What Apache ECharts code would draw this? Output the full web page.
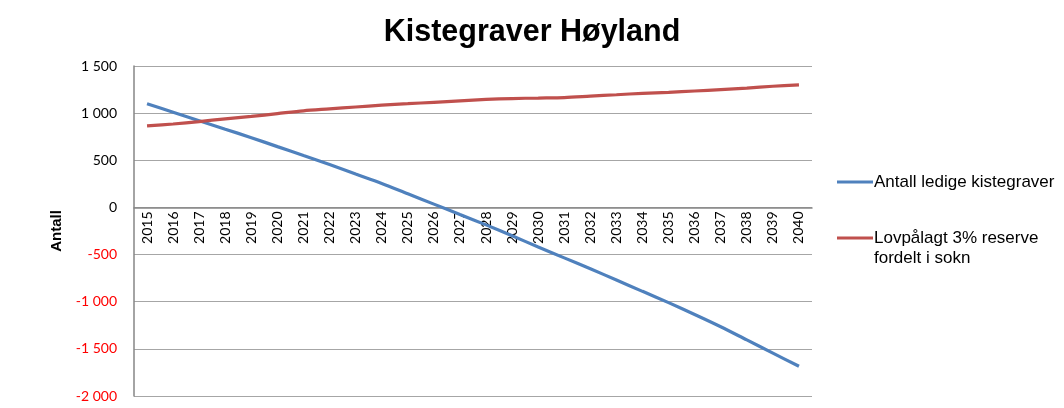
<!DOCTYPE html>
<html>
<head>
<meta charset="utf-8">
<script src="https://cdn.jsdelivr.net/npm/echarts@6/dist/echarts.min.js"></script>
<style>
  html, body { margin: 0; padding: 0; background: #fff; }
  #chart { width: 1064px; height: 408px; }
</style>
</head>
<body>
<div id="chart"></div>
<script>
// Years on the category axis
const years = [
  "2015", "2016", "2017", "2018", "2019", "2020", "2021", "2022", "2023",
  "2024", "2025", "2026", "2027", "2028", "2029", "2030", "2031", "2032",
  "2033", "2034", "2035", "2036", "2037", "2038", "2039", "2040"
];

const ledigeKistegraver = [
  1100, 1010, 920, 830, 740, 645, 550, 455, 355, 255, 145, 35, -75,
  -185, -300, -420, -535, -650, -770, -890, -1010, -1135, -1265, -1405, -1545, -1685
];

const lovpalagtReserve = [
  865, 885, 910, 940, 965, 995, 1025, 1045, 1065, 1085, 1100, 1115, 1130,
  1145, 1155, 1160, 1165, 1180, 1195, 1210, 1220, 1235, 1250, 1265, 1285, 1300
];

const seriesNames = ["Antall ledige kistegraver", "Lovpålagt 3% reserve fordelt i sokn"];

const Y_MIN = -2000, Y_MAX = 1500;
const GRID_TOP = 66, GRID_BOTTOM = 12, CHART_H = 408;

// "1 500" style, with a space as thousands separator
function formatNumber(v) {
  const s = String(Math.abs(v)).replace(/\B(?=(\d{3})+(?!\d))/g, " ");
  return (v < 0 ? "-" : "") + s;
}

// the category axis sits on the zero line, pushed up from the bottom
const plotH = CHART_H - GRID_TOP - GRID_BOTTOM;
const zeroOffset = plotH * (0 - Y_MIN) / (Y_MAX - Y_MIN);

const legendText = {
  fontFamily: "Liberation Sans, Arial, sans-serif",
  fontSize: 17,
  lineHeight: 20,
  color: "#000",
  padding: [0, 0, 0, -4]
};

const chart = echarts.init(document.getElementById("chart"), null, { renderer: "canvas" });

chart.setOption({
  animation: false,
  backgroundColor: "#ffffff",
  title: {
    text: "Kistegraver Høyland",
    left: "center",
    top: 17,
    padding: 0,
    textStyle: {
      fontFamily: "Liberation Sans, Arial, sans-serif",
      fontSize: 30.5,
      fontWeight: "bold",
      color: "#000"
    }
  },
  legend: [
    {
      orient: "vertical",
      left: 837,
      top: 172,
      padding: 0,
      itemWidth: 36,
      itemHeight: 3,
      icon: "rect",
      data: [{ name: seriesNames[0] }],
      textStyle: legendText
    },
    {
      orient: "vertical",
      left: 837,
      top: 208,
      padding: 0,
      itemWidth: 36,
      itemHeight: 3,
      icon: "rect",
      data: [{ name: seriesNames[1] }],
      // blank first line keeps the icon level with "Lovpålagt ..."
      formatter: () => " \nLovpålagt 3% reserve\nfordelt i sokn",
      textStyle: legendText
    }
  ],
  grid: {
    left: 134,
    right: 252,
    top: GRID_TOP,
    bottom: GRID_BOTTOM,
    containLabel: false,
    outerBoundsMode: "none"
  },
  xAxis: {
    type: "category",
    data: years,
    boundaryGap: true,
    position: "bottom",
    offset: -zeroOffset,
    axisLine: { onZero: false, lineStyle: { color: "#868686", width: 1.5 } },
    axisTick: { show: false },
    axisLabel: {
      rotate: 90,
      interval: 0,
      margin: 4,
      fontFamily: "Lato, sans-serif",
      fontSize: 14,
      color: "#000"
    },
    splitLine: { show: false }
  },
  yAxis: {
    type: "value",
    min: Y_MIN,
    max: Y_MAX,
    interval: 500,
    name: "Antall",
    nameLocation: "middle",
    nameGap: 64,
    nameRotate: 90,
    nameTextStyle: {
      fontFamily: "Liberation Sans, Arial, sans-serif",
      fontSize: 15,
      fontWeight: "bold",
      color: "#000"
    },
    axisLine: { show: true, lineStyle: { color: "#868686", width: 1.5 } },
    axisTick: { show: false },
    axisLabel: {
      margin: 17,
      fontFamily: "Lato, sans-serif",
      fontSize: 14,
      formatter: formatNumber,
      color: (v) => (Number(v) < 0 ? "#ff0000" : "#000")
    },
    splitLine: { show: true, lineStyle: { color: "#a6a6a6", width: 1 } }
  },
  series: [
    {
      name: seriesNames[0],
      type: "line",
      data: ledigeKistegraver,
      smooth: 0.3,
      symbol: "none",
      lineStyle: { color: "#4f81bd", width: 3.2 },
      itemStyle: { color: "#4f81bd" }
    },
    {
      name: seriesNames[1],
      type: "line",
      data: lovpalagtReserve,
      smooth: 0.3,
      symbol: "none",
      lineStyle: { color: "#c0504d", width: 3.2 },
      itemStyle: { color: "#c0504d" }
    }
  ]
});
</script>
</body>
</html>
